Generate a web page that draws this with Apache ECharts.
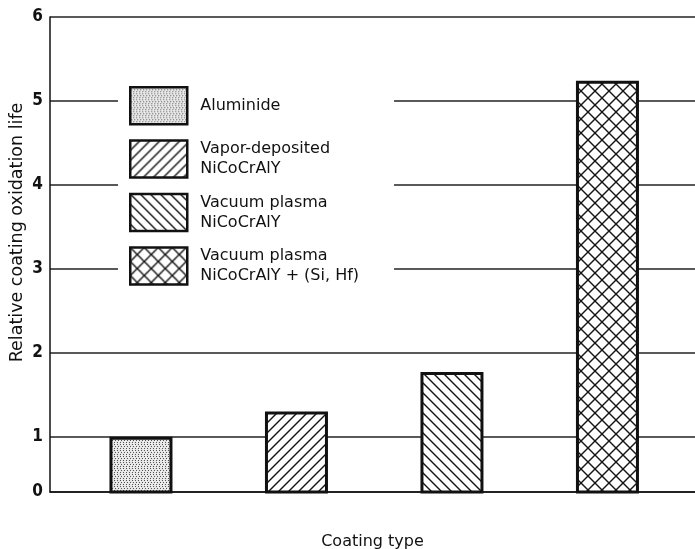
<!DOCTYPE html>
<html><head><meta charset="utf-8">
<script src="https://cdn.jsdelivr.net/npm/echarts@6/dist/echarts.min.js"></script>
<style>html,body{margin:0;padding:0;background:#fff}#c{width:695px;height:549px}</style>
</head><body><div id="c"></div>
<script>
const categories = ['Aluminide', 'Vapor-deposited\nNiCoCrAlY', 'Vacuum plasma\nNiCoCrAlY', 'Vacuum plasma\nNiCoCrAlY + (Si, Hf)'];
const lifeValues = [1.0, 1.30, 1.77, 5.24];
const yTickValues = [0.341, 1, 2, 3, 4, 5, 6];
const yTickLabels = ['0', '1', '2', '3', '4', '5', '6'];
const yAxisName = 'Relative coating oxidation life';
const xAxisName = 'Coating type';

function tile(kind) {
  const c = document.createElement('canvas');
  const s = kind === 'cross' ? 14 : (kind === 'dots' ? 6 : 10);
  c.width = s; c.height = s;
  const g = c.getContext('2d');
  g.fillStyle = kind === 'dots' ? '#e6e6e6' : '#ffffff';
  g.fillRect(0, 0, s, s);
  g.strokeStyle = '#151515';
  g.lineWidth = 1.4;
  function ln(x1, y1, x2, y2) { g.beginPath(); g.moveTo(x1, y1); g.lineTo(x2, y2); g.stroke(); }
  if (kind === 'dots') {
    g.fillStyle = '#555';
    [[0,0],[3,0],[1,2],[4,2],[0,4],[3,4]].forEach(p => g.fillRect(p[0], p[1], 1, 1));
    g.fillStyle = '#fafafa';
    [[2,1],[5,3],[1,5]].forEach(p => g.fillRect(p[0], p[1], 1, 1));
  }
  if (kind === 'fwd' || kind === 'cross') {
    ln(-1, s + 1, s + 1, -1); ln(-1, 1, 1, -1); ln(s - 1, s + 1, s + 1, s - 1);
  }
  if (kind === 'back' || kind === 'cross') {
    ln(-1, -1, s + 1, s + 1); ln(-1, s - 1, 1, s + 1); ln(s - 1, -1, s + 1, 1);
  }
  return c;
}
const patternKinds = ['dots', 'fwd', 'back', 'cross'];

const chart = echarts.init(document.getElementById('c'));
const series = categories.map((name, i) => ({
  type: 'bar', name: name, z: 3, barWidth: 63, barGap: '-100%',
  data: [[i + 1, lifeValues[i]]],
  silent: true,
  itemStyle: { color: { image: tile(patternKinds[i]), repeat: 'repeat' }, borderColor: '#111', borderWidth: 3 }
}));

chart.setOption({
  animation: false,
  backgroundColor: '#fff',
  grid: { left: 50, right: 0, top: 17, bottom: 57, containLabel: false, outerBoundsMode: 'none' },
  legend: {
    data: categories, orient: 'vertical', left: 118, top: 80,
    icon: 'rect', itemWidth: 57, itemHeight: 37, itemGap: 13.5,
    selectedMode: false, backgroundColor: '#fff', padding: [6, 35, 8, 11], z: 10,
    itemStyle: { borderColor: '#111', borderWidth: 2.5 },
    textStyle: { fontFamily: 'DejaVu Sans', fontSize: 16, color: '#111', lineHeight: 20, padding: [0, 0, 0, 8] }
  },
  xAxis: {
    type: 'value', min: 0.415, max: 4.563,
    name: xAxisName, nameLocation: 'middle', nameGap: 42,
    nameTextStyle: { fontFamily: 'DejaVu Sans', fontSize: 16, color: '#111' },
    axisLine: { show: true, lineStyle: { color: '#111', width: 1.5 } },
    axisTick: { show: false }, axisLabel: { show: false }, splitLine: { show: false }
  },
  yAxis: {
    type: 'value', min: yTickValues[0], max: yTickValues[yTickValues.length - 1],
    name: yAxisName, nameLocation: 'middle', nameGap: 24, nameMoveOverlap: false,
    nameTextStyle: { fontFamily: 'DejaVu Sans', fontSize: 17.5, color: '#111', padding: [0, 0, 0, 44] },
    axisLine: { show: true, lineStyle: { color: '#111', width: 1.5 } },
    axisTick: { show: false, customValues: yTickValues },
    axisLabel: {
      customValues: yTickValues, margin: 7,
      formatter: v => { const k = yTickValues.findIndex(t => Math.abs(t - v) < 1e-6); return k >= 0 ? yTickLabels[k] : ''; },
      fontFamily: 'Liberation Sans Narrow, DejaVu Sans Condensed, sans-serif', fontWeight: 'bold', fontSize: 17, color: '#111'
    },
    splitLine: { show: true, lineStyle: { color: '#222', width: 1.5, type: 'solid' } }
  },
  series: series
});
</script></body></html>
